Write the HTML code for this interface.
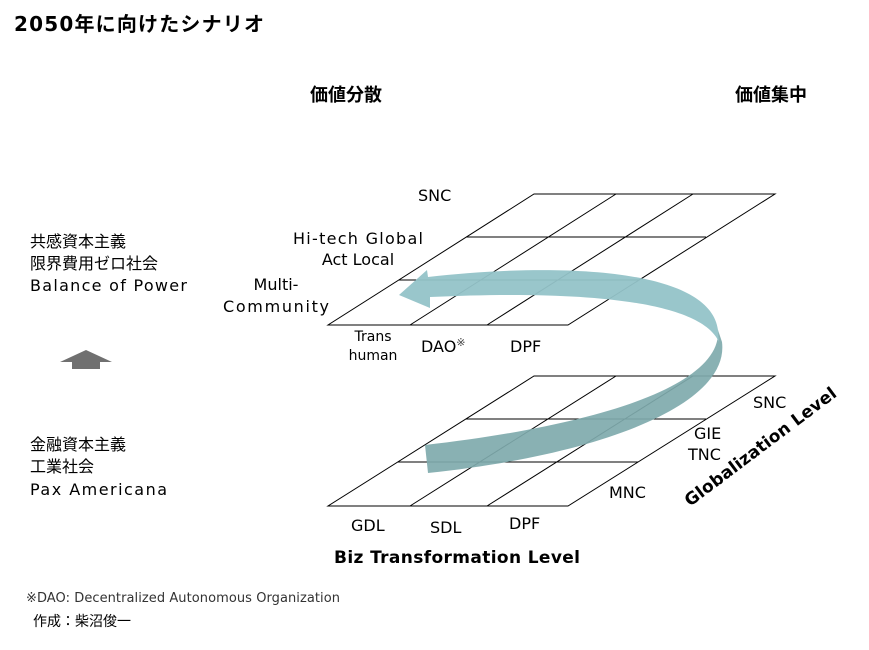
<!DOCTYPE html>
<html><head><meta charset="utf-8"><style>
body{margin:0;background:#fff;}
svg{display:block;font-family:"DejaVu Sans","Noto Sans CJK JP",sans-serif;}
</style></head><body>
<svg width="869" height="650" viewBox="0 0 869 650">
<text x="14" y="31" font-size="20" font-weight="bold" fill="#000" textLength="250">2050年に向けたシナリオ</text>
<text x="346" y="101" font-size="18" font-weight="bold" text-anchor="middle">価値分散</text>
<text x="771" y="101" font-size="18" font-weight="bold" text-anchor="middle">価値集中</text>

<g font-size="16" fill="#000">
<text x="30" y="247">共感資本主義</text>
<text x="30" y="269">限界費用ゼロ社会</text>
<text x="30" y="291" textLength="157">Balance of Power</text>
</g>
<polygon points="60,362 86,350 112,362 100,362 100,369 72,369 72,362" fill="#707070"/>
<g font-size="16" fill="#000">
<text x="30" y="450">金融資本主義</text>
<text x="30" y="472">工業社会</text>
<text x="30" y="495" textLength="137">Pax Americana</text>
</g>

<g stroke="#000" stroke-width="1" fill="none">
<polygon points="328,325 568,325 775,194 534,194"/>
<line x1="399" y1="280" x2="639" y2="280"/>
<line x1="466" y1="237" x2="706" y2="237"/>
<line x1="410" y1="325" x2="616" y2="194"/>
<line x1="487" y1="325" x2="693" y2="194"/>
</g>
<g stroke="#000" stroke-width="1" fill="none">
<polygon points="328,506 568,506 775,376 534,376"/>
<line x1="398" y1="462" x2="638" y2="462"/>
<line x1="466" y1="419" x2="706" y2="419"/>
<line x1="410" y1="506" x2="616" y2="376"/>
<line x1="487" y1="506" x2="693" y2="376"/>
</g>

<path d="M425,445 C600,425 722,385 718,330 L722,342 C730,405 600,455 428,473 Z" fill="#7faaad" opacity="0.92"/>
<path d="M428,277 C560,262 710,268 718,330 L719,342 C700,300 580,290 430,297 L430,308 L399,295 L427,270 Z" fill="#93c3c8" opacity="0.95"/>

<g font-size="16" fill="#000">
<text x="418" y="201">SNC</text>
<text x="358" y="244" text-anchor="middle" textLength="130">Hi-tech Global</text>
<text x="358" y="265" text-anchor="middle">Act Local</text>
<text x="276" y="290" text-anchor="middle">Multi-</text>
<text x="276" y="312" text-anchor="middle" textLength="106">Community</text>
<text x="373" y="341" font-size="14" text-anchor="middle">Trans</text>
<text x="373" y="360" font-size="14" text-anchor="middle">human</text>
<text x="421" y="352">DAO<tspan font-size="11" dy="-6" fill="#444">※</tspan></text>
<text x="510" y="352">DPF</text>
</g>
<g font-size="16" fill="#000">
<text x="351" y="531">GDL</text>
<text x="430" y="533">SDL</text>
<text x="509" y="529">DPF</text>
<text x="609" y="498">MNC</text>
<text x="688" y="460">TNC</text>
<text x="694" y="439">GIE</text>
<text x="753" y="408">SNC</text>
</g>
<text x="0" y="0" font-size="17" font-weight="bold" textLength="185" transform="translate(690,507) rotate(-37)">Globalization Level</text>
<text x="334" y="563" font-size="17" font-weight="bold" textLength="246">Biz Transformation Level</text>
<text x="26" y="602" font-size="13" fill="#333" textLength="314">※DAO: Decentralized Autonomous Organization</text>
<text x="33" y="626" font-size="14" fill="#000">作成：柴沼俊一</text>
</svg>
</body></html>
